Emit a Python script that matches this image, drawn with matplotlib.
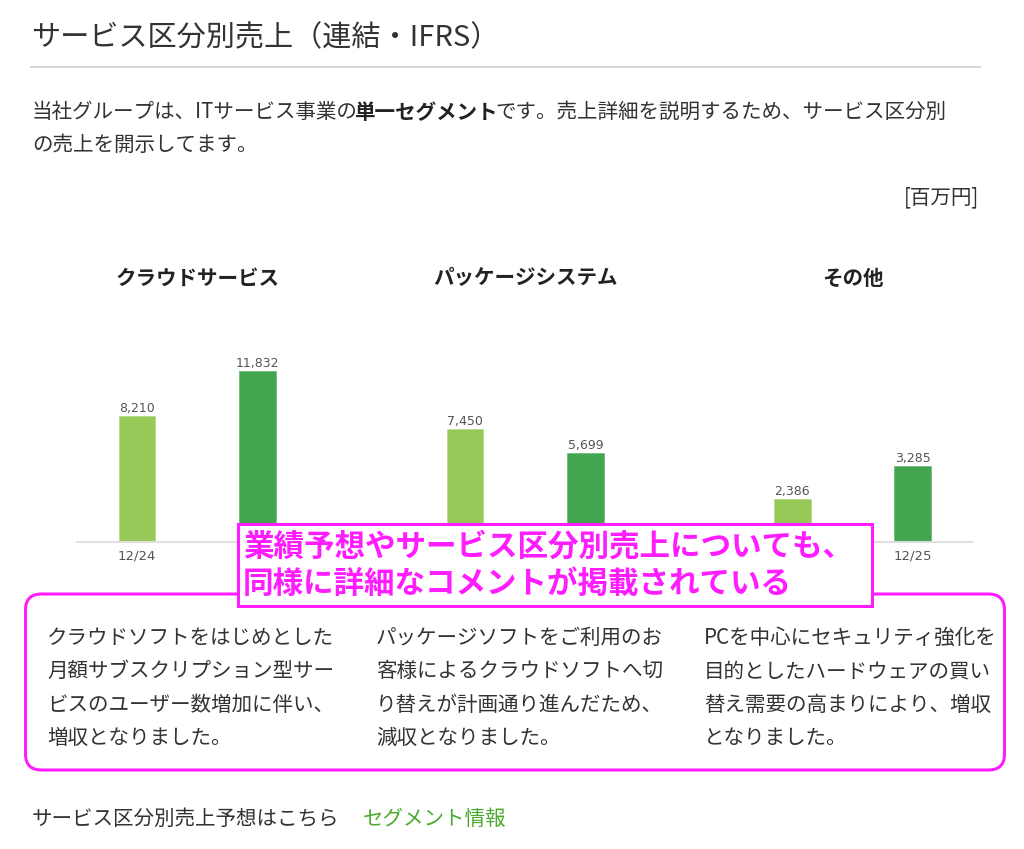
import matplotlib
matplotlib.use("Agg")
import matplotlib.pyplot as plt
from matplotlib.patches import Rectangle, FancyBboxPatch

JP = ['Noto Sans CJK JP', 'DejaVu Sans']
plt.rcParams['font.family'] = JP

# data
categories = ["クラウドサービス", "パッケージシステム", "その他"]
periods = ["12/24", "12/25"]
sales_prev = [8210, 7450, 2386]
sales_curr = [11832, 5699, 3285]
comments = [
    ["クラウドソフトをはじめとした", "月額サブスクリプション型サー",
     "ビスのユーザー数増加に伴い、", "増収となりました。"],
    ["パッケージソフトをご利用のお", "客様によるクラウドソフトへ切",
     "り替えが計画通り進んだため、", "減収となりました。"],
    ["PCを中心にセキュリティ強化を", "目的としたハードウェアの買い",
     "替え需要の高まりにより、増収", "となりました。"],
]

# each panel has its own value axis in the original
y_floor = [-1888, -636, 1176]
y_ceil = [17485, 16610, 7899]
x_lims = [(-1.0, 1.36), (-1.36, 1.36), (-1.36, 1.0)]
panel_px = [(76.7, 361.5), (361.5, 689.0), (689.0, 972.7)]
head_x = [197.7, 525.2, 852.7]

c_light = "#97c958"
c_dark = "#43a54f"
c_text = "#333333"
magenta = "#ff1cff"

W, H = 1024, 849
fig = plt.figure(figsize=(W / 100, H / 100), dpi=100)

base_y = 542.3
top_y = 300.0
tick_labels = []
for i, (x0, x1) in enumerate(panel_px):
    ax = fig.add_axes([x0 / W, 1 - base_y / H, (x1 - x0) / W, (base_y - top_y) / H])
    lo = y_floor[i]
    vals = [sales_prev[i], sales_curr[i]]
    xs = [-0.5, 0.5]
    bars = ax.bar(xs, [v - lo for v in vals], bottom=lo, width=0.303,
                  color=[c_light, c_dark], edgecolor=["#b5dc8a", "#6fbd78"], linewidth=0.6)
    for b, v in zip(bars, vals):
        ax.annotate(f"{v:,}", (b.get_x() + b.get_width() / 2, v), xytext=(0, 3),
                    textcoords="offset points", ha="center", va="baseline",
                    fontsize=9, color="#555555", family="DejaVu Sans")
    ax.set_xlim(*x_lims[i])
    ax.set_ylim(lo, y_ceil[i])
    ax.set_xticks(xs, periods)
    ax.tick_params(axis="x", length=0, pad=5, labelsize=9.5, labelcolor="#555555")
    for lab in ax.get_xticklabels():
        lab.set_family("DejaVu Sans")
        tick_labels.append(lab)
    ax.set_yticks([])
    for s in ["top", "left", "right"]:
        ax.spines[s].set_visible(False)
    ax.spines["bottom"].set_color("#e0e0e0")
    ax.spines["bottom"].set_linewidth(1.4)
    ax.patch.set_alpha(0)

# page overlay, one unit = one pixel
ov = fig.add_axes([0, 0, 1, 1])
ov.set_xlim(0, W)
ov.set_ylim(H, 0)
ov.axis("off")

body = 14.8
ov.text(31, 38, "サービス区分別売上（連結・IFRS）", fontsize=21, color=c_text, va="center")
ov.plot([31, 980], [66.7, 66.7], color="#d0d0d0", lw=1.3)

t1 = ov.text(32, 111.7, "当社グループは、ITサービス事業の", fontsize=body, color=c_text, va="center")
t2 = ov.annotate("単一セグメント", xy=(1, 0), xycoords=t1, xytext=(-3, 0),
                 textcoords="offset points", ha="left", va="bottom",
                 fontsize=body, color="#222222", fontweight="bold")
ov.annotate("です。売上詳細を説明するため、サービス区分別", xy=(1, 0), xycoords=t2,
            xytext=(-1, 0), textcoords="offset points",
            ha="left", va="bottom", fontsize=body, color=c_text)
ov.text(32, 145, "の売上を開示してます。", fontsize=body, color=c_text, va="center")
ov.text(979, 197, "[百万円]", fontsize=body, color=c_text, va="center", ha="right")

for cx, name in zip(head_x, categories):
    ov.text(cx, 278, name, fontsize=body, fontweight="bold", color="#222222",
            ha="center", va="center")

# comment frame
ov.add_patch(FancyBboxPatch((25.5, 594), 979, 176, boxstyle="round,pad=0,rounding_size=16",
                            facecolor="white", edgecolor=magenta, lw=2.2, zorder=2))
col_x = [47, 376, 704]
row_y = [637.7, 671.2, 704.8, 738.3]
for cx, lines in zip(col_x, comments):
    for ry, line in zip(row_y, lines):
        ov.text(cx, ry, line, fontsize=body, color=c_text, va="center", zorder=3)

# callout
callout = Rectangle((238.3, 524), 633.4, 81.7, facecolor="white",
                    edgecolor=magenta, lw=2.2, zorder=4)
ov.add_patch(callout)
ov.text(243, 547, "業績予想やサービス区分別売上についても、", fontsize=22,
        fontweight="bold", color=magenta, va="center", zorder=5)
ov.text(243, 583.5, "同様に詳細なコメントが掲載されている", fontsize=22,
        fontweight="bold", color=magenta, va="center", zorder=5)

ov.text(32, 819, "サービス区分別売上予想はこちら", fontsize=body, color=c_text, va="center")
ov.text(363, 819, "セグメント情報", fontsize=body, color="#4aab2e", va="center")

# period labels that sit under the callout are hidden by it
fig.canvas.draw()
box = callout.get_window_extent()
for lab in tick_labels:
    if lab.get_window_extent().overlaps(box):
        lab.set_visible(False)

fig.savefig("out.png", dpi=100)
